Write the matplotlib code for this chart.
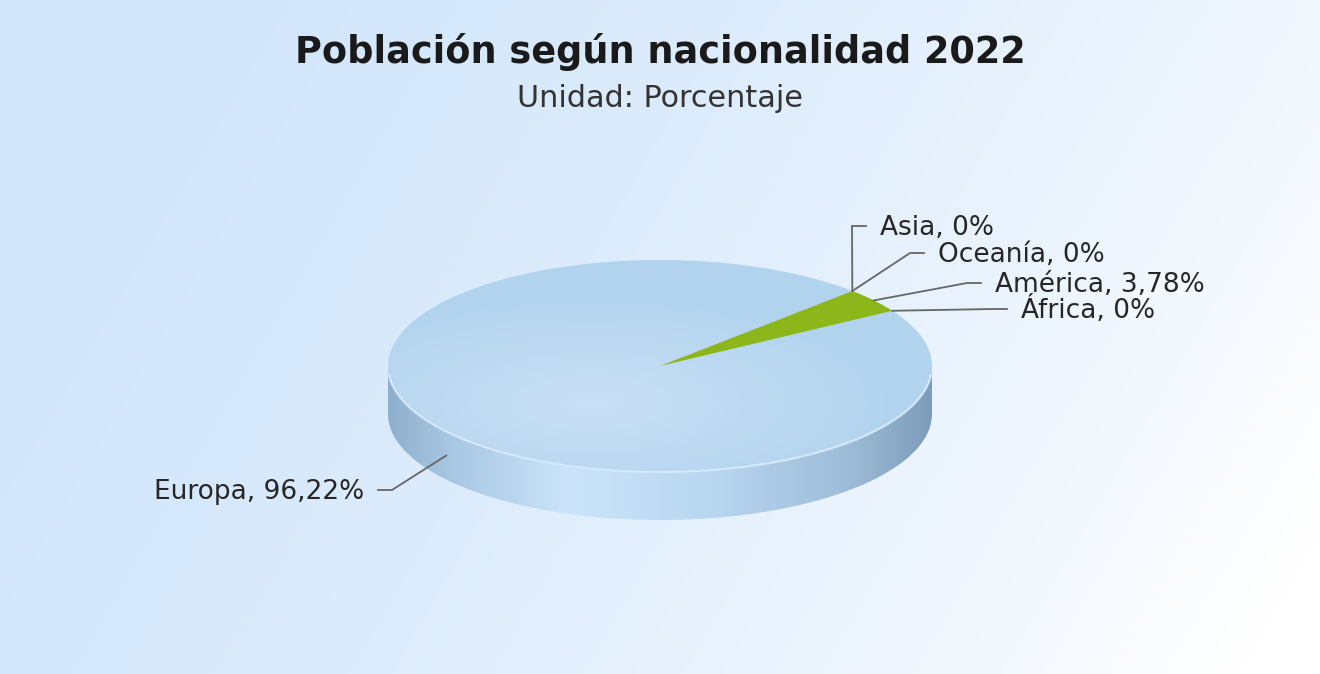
import numpy as np
import matplotlib
matplotlib.use("Agg")
import matplotlib.pyplot as plt
from matplotlib.patches import Polygon
from matplotlib.colors import LinearSegmentedColormap

# ---- data ----
categories = ["Asia", "Oceanía", "América", "África", "Europa"]
values = [0.0, 0.0, 3.78, 0.0, 96.22]
value_labels = ["0%", "0%", "3,78%", "0%", "96,22%"]
title = "Población según nacionalidad 2022"
subtitle = "Unidad: Porcentaje"

# ---- styling / layout ----
slice_colors = ["#4f81bd", "#c0504d", "#8db61a", "#f79646", None]  # None -> gradient face
W, H = 1320, 674
cx, cy, rx, ry, depth = 660, 366, 272, 106, 48
start_angle = 45.0  # degrees, slices go clockwise
label_elbows = [(852, 226), (910, 253), (967, 283), (993, 309), (392, 490)]
FONT = "DejaVu Sans"

fig = plt.figure(figsize=(W / 100, H / 100), dpi=100)
ax = fig.add_axes([0, 0, 1, 1])
ax.set_xlim(0, W)
ax.set_ylim(H, 0)
ax.axis("off")

# background gradient
gx = np.linspace(0, 1, 400)
gy = np.linspace(0, 1, 200)
GX, GY = np.meshgrid(gx, gy)
t = np.clip(0.85 * GX + 0.25 * GY - 0.05, 0, 1) ** 1.6
c0 = np.array([0.82, 0.90, 0.985])
c1 = np.array([1.0, 1.0, 1.0])
bg = c0[None, None, :] * (1 - t[..., None]) + c1[None, None, :] * t[..., None]
ax.imshow(bg, extent=[0, W, H, 0], aspect="auto", zorder=0)


def ept(theta_deg, dy=0.0):
    th = np.radians(theta_deg)
    return cx + rx * np.cos(th), cy - ry * np.sin(th) + dy


# side (front half)
th = np.linspace(180, 360, 200)
top = [ept(a) for a in th]
bot = [ept(a, depth) for a in th[::-1]]
side_poly = Polygon(top + bot, closed=True, facecolor="none", edgecolor="none", zorder=2)
ax.add_patch(side_poly)
side_cmap = LinearSegmentedColormap.from_list(
    "side", [(0.0, "#8fb0cd"), (0.12, "#a9c8e4"), (0.33, "#cbe4fa"),
             (0.6, "#b8d6f0"), (0.85, "#9dbcd8"), (1.0, "#7d9dba")])
sx = np.linspace(0, 1, 300)[None, :].repeat(2, axis=0)
im = ax.imshow(sx, cmap=side_cmap, extent=[cx - rx, cx + rx, cy + depth + ry + 2, cy - 2],
               aspect="auto", zorder=2)
im.set_clip_path(side_poly)

# top face
tha = np.linspace(0, 360, 400)
face_poly = Polygon([ept(a) for a in tha], closed=True, facecolor="none", edgecolor="none", zorder=3)
ax.add_patch(face_poly)
fx = np.linspace(-1, 1, 300)
fy = np.linspace(-1, 1, 150)
FX, FY = np.meshgrid(fx, fy)
r = np.sqrt(((FX + 0.25) / 1.1) ** 2 + ((FY - 0.35) / 1.0) ** 2)
tf = np.clip(r, 0, 1)
ci = np.array([0.79, 0.88, 0.965])
co = np.array([0.70, 0.83, 0.935])
face = ci[None, None, :] * (1 - tf[..., None]) + co[None, None, :] * tf[..., None]
im2 = ax.imshow(face, extent=[cx - rx, cx + rx, cy + ry, cy - ry], aspect="auto", zorder=3)
im2.set_clip_path(face_poly)

# front edge highlight
hl = np.array([ept(a) for a in np.linspace(185, 355, 200)])
ax.plot(hl[:, 0], hl[:, 1], color="#d6eafc", lw=1.6, zorder=4, alpha=0.9)

# slices
total = sum(values)
ang = start_angle
bounds = []
for v, col in zip(values, slice_colors):
    span = v / total * 360.0
    a0, a1 = ang, ang - span
    bounds.append((a0, a1))
    if span > 0 and col is not None:
        arc = [ept(a) for a in np.linspace(a0, a1, 60)]
        ax.add_patch(Polygon([(cx, cy)] + arc, closed=True, facecolor=col,
                             edgecolor="none", zorder=5))
    ang = a1

# labels with connectors
for (a0, a1), cat, vl, elbow in zip(bounds, categories, value_labels, label_elbows):
    mid = (a0 + a1) / 2.0
    s = np.sin(np.radians(mid))
    ax_, ay_ = ept(mid, depth / 2 if s < 0 else 0)
    direction = 1 if elbow[0] > cx else -1
    ex, ey = elbow
    hx = ex + direction * 14
    ax.plot([ax_, ex, hx], [ay_, ey, ey], color="#666666", lw=1.3, zorder=6,
            solid_joinstyle="miter")
    ax.text(hx + direction * 14, ey + 9, f"{cat}, {vl}", ha="left" if direction > 0 else "right",
            va="baseline", fontsize=19, color="#262626", family=FONT, zorder=7)

fig.text(0.5, 1 - 63 / H, title, ha="center", va="baseline", fontsize=26.4, fontweight="bold",
         color="#1a1a1a", family=FONT)
fig.text(0.5, 1 - 107 / H, subtitle, ha="center", va="baseline", fontsize=21.8,
         color="#333333", family=FONT)

fig.savefig("out.png", dpi=100)
